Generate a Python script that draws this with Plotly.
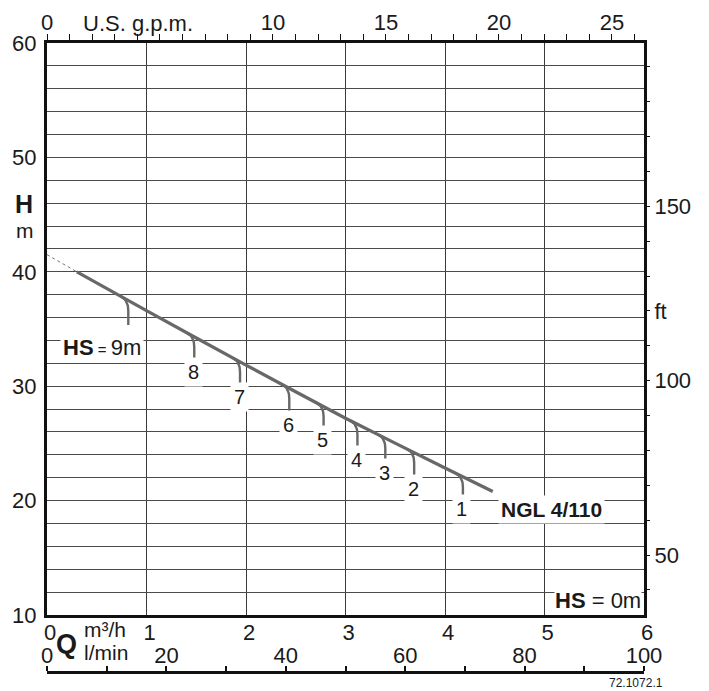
import numpy as np
import plotly.graph_objects as go

# ---------------- data ----------------
M3H_TO_GPM = 4.40287
M_TO_FT = 1 / 0.3048

curve_q = [0.30, 1.0, 2.0, 3.0, 4.0, 4.48]          # m3/h
curve_h = [40.0, 36.6, 31.85, 27.2, 22.85, 20.8]     # m
dash_q = [0.0, 0.30]
dash_h = [41.5, 40.0]

hs_labels = [9, 8, 7, 6, 5, 4, 3, 2, 1]
hook_q = [0.817, 1.48, 1.94, 2.435, 2.78, 3.12, 3.40, 3.69, 4.18]
hook_bottom_h = [35.35, 32.29, 30.10, 27.63, 26.32, 24.57, 23.46, 22.09, 20.05]

m3h_ticks = [0, 1, 2, 3, 4, 5, 6]
lmin_ticks = list(range(0, 101, 10))
lmin_labels = [str(v) if v % 20 == 0 else "" for v in lmin_ticks]
gpm_ticks = list(range(0, 27))
gpm_labels = [str(v) if v in (0, 10, 15, 20, 25) else "" for v in gpm_ticks]
ft_ticks = list(range(40, 200, 10))
ft_labels = [("ft" if v == 120 else (str(v) if v in (50, 100, 150) else "")) for v in ft_ticks]
h_ticks = list(range(10, 61, 2))
h_labels = [str(v) if v % 10 == 0 else "" for v in h_ticks]

FONT = "Liberation Sans, Arial, Helvetica, sans-serif"
TXT = "#1a1a1a"
LINE = "#686868"

fig = go.Figure()

# dotted extension
fig.add_trace(go.Scatter(x=dash_q, y=dash_h, mode="lines",
                         line=dict(color="#777", width=1, dash="dot"),
                         hoverinfo="skip", showlegend=False))
# main curve
fig.add_trace(go.Scatter(x=curve_q, y=curve_h, mode="lines",
                         line=dict(color=LINE, width=3.2, shape="spline", smoothing=0.6),
                         hoverinfo="skip", showlegend=False))

# hooks
hx, hy = [], []
t = np.linspace(0, 1, 14)
for qv, hb in zip(hook_q, hook_bottom_h):
    q0 = qv - 0.07
    p0 = (q0, np.interp(q0, curve_q, curve_h))
    p1 = (qv, np.interp(qv, curve_q, curve_h))
    p2 = (qv, p1[1] - 0.9)
    bx = (1 - t) ** 2 * p0[0] + 2 * (1 - t) * t * p1[0] + t ** 2 * p2[0]
    by = (1 - t) ** 2 * p0[1] + 2 * (1 - t) * t * p1[1] + t ** 2 * p2[1]
    hx += list(bx) + [qv, None]
    hy += list(by) + [hb, None]
fig.add_trace(go.Scatter(x=hx, y=hy, mode="lines",
                         line=dict(color=LINE, width=2.4),
                         hoverinfo="skip", showlegend=False))

# invisible traces so that the secondary axes are drawn
fig.add_trace(go.Scatter(x=[0, 100], y=[10, 10], xaxis="x2", yaxis="y", mode="lines",
                         line=dict(width=0), hoverinfo="skip", showlegend=False))
fig.add_trace(go.Scatter(x=[0, 26], y=[10, 10], xaxis="x3", yaxis="y", mode="lines",
                         line=dict(width=0), hoverinfo="skip", showlegend=False))
fig.add_trace(go.Scatter(x=[0, 6], y=[40, 40], xaxis="x", yaxis="y2", mode="lines",
                         line=dict(width=0), hoverinfo="skip", showlegend=False))

annotations = []
for n, qv, hb in zip(hs_labels, hook_q, hook_bottom_h):
    if n == 9:
        annotations.append(dict(
            x=qv, y=hb, xref="x", yref="y", xanchor="center", yanchor="middle",
            xshift=-26, yshift=-22, showarrow=False,
            text="<b>HS</b><span style='font-size:15px'> = </span>9m",
            font=dict(size=22, color=TXT, family=FONT),
            bgcolor="white", borderpad=2))
    else:
        annotations.append(dict(
            x=qv, y=hb, xref="x", yref="y", xanchor="center", yanchor="middle",
            xshift=-1, yshift=(-9 if n == 1 else -12), showarrow=False, text=str(n),
            font=dict(size=20, color=TXT, family=FONT),
            bgcolor="white", borderpad=3))

annotations += [
    dict(x=curve_q[-1], y=curve_h[-1], xref="x", yref="y", xanchor="left", yanchor="middle",
         xshift=5, yshift=-18, showarrow=False, text="<b>NGL 4/110</b>",
         font=dict(size=21, color=TXT, family=FONT), bgcolor="white", borderpad=2),
    dict(x=1, y=0, xref="x domain", yref="y domain", xanchor="right", yanchor="bottom",
         xshift=-2, yshift=1, showarrow=False, text="<b>HS</b> = 0m",
         font=dict(size=22, color=TXT, family=FONT), bgcolor="white", borderpad=0),
    dict(x=0, y=0.7448, xref="paper", yref="paper", xanchor="center", yanchor="middle",
         xshift=-23, showarrow=False, text="<b>H</b>",
         font=dict(size=25, color=TXT, family=FONT)),
    dict(x=0, y=0.7020, xref="paper", yref="paper", xanchor="center", yanchor="middle",
         xshift=-22, showarrow=False, text="m",
         font=dict(size=21, color=TXT, family=FONT)),
    dict(x=0.1524, y=1, xref="paper", yref="paper", xanchor="center", yanchor="middle",
         yshift=20, showarrow=False, text="U.S. g.p.m.",
         font=dict(size=22, color=TXT, family=FONT)),
    dict(x=0.0586, y=0.0680, xref="paper", yref="paper", xanchor="left", yanchor="middle",
         showarrow=False, text="m³/h",
         font=dict(size=21, color=TXT, family=FONT)),
    dict(x=0.0586, y=0.0310, xref="paper", yref="paper", xanchor="left", yanchor="middle",
         showarrow=False, text="l/min",
         font=dict(size=21, color=TXT, family=FONT)),
    dict(x=0.0327, y=0.0445, xref="paper", yref="paper", xanchor="center", yanchor="middle",
         showarrow=False, text="<b>Q</b>",
         font=dict(size=27, color=TXT, family=FONT)),
    dict(x=1, y=0, xref="paper", yref="paper", xanchor="right", yanchor="middle",
         xshift=21, yshift=-11, showarrow=False, text="72.1072.1",
         font=dict(size=12, color=TXT, family=FONT)),
]

tickfont = dict(size=22, color=TXT, family=FONT)

fig.update_layout(
    width=709, height=691,
    margin=dict(l=47, r=65, t=43, b=19, autoexpand=False),
    paper_bgcolor="white", plot_bgcolor="white",
    showlegend=False,
    annotations=annotations,
    xaxis=dict(range=[0, 6], anchor="y", tickvals=m3h_ticks, ticks="",
               tickfont=tickfont, ticklabelshift=3, ticklabelstandoff=-4,
               showline=True, linewidth=3, linecolor="#111", mirror=True,
               showgrid=True, gridcolor="#3a3a3a", gridwidth=1, zeroline=False,
               automargin=False),
    xaxis2=dict(range=[0, 100], overlaying="x", anchor="free", position=0, side="top",
                tickvals=lmin_ticks, ticktext=lmin_labels, ticks="outside",
                ticklen=5, tickwidth=1.5, tickcolor="#111", tickfont=tickfont,
                ticklabelstandoff=-6,
                showline=True, linewidth=2.5, linecolor="#111", showgrid=False,
                zeroline=False, automargin=False),
    xaxis3=dict(range=[0, 6 * M3H_TO_GPM], overlaying="x", anchor="y", side="top",
                tickvals=gpm_ticks, ticktext=gpm_labels, ticks="outside",
                ticklen=8, tickwidth=1.3, tickcolor="#111", tickfont=tickfont,
                ticklabelstandoff=-5,
                showline=False, showgrid=False, zeroline=False, automargin=False),
    yaxis=dict(range=[10, 60], domain=[57 / 629, 1], anchor="x",
               tickvals=h_ticks, ticktext=h_labels, ticks="", tickfont=tickfont,
               ticklabelstandoff=3,
               showline=True, linewidth=3, linecolor="#111", mirror=True,
               showgrid=True, gridcolor="#4a4a4a", gridwidth=1, zeroline=False,
               automargin=False),
    yaxis2=dict(range=[10 * M_TO_FT, 60 * M_TO_FT], overlaying="y", anchor="x",
                side="right", tickvals=ft_ticks, ticktext=ft_labels,
                ticks="outside", ticklen=5, tickwidth=1.3, tickcolor="#111",
                tickfont=tickfont, showline=False, showgrid=False, zeroline=False,
                automargin=False),
)

fig.write_html("out.html",
               config={"displayModeBar": False},
               post_script="document.body.style.margin='0';document.body.style.padding='0';")
